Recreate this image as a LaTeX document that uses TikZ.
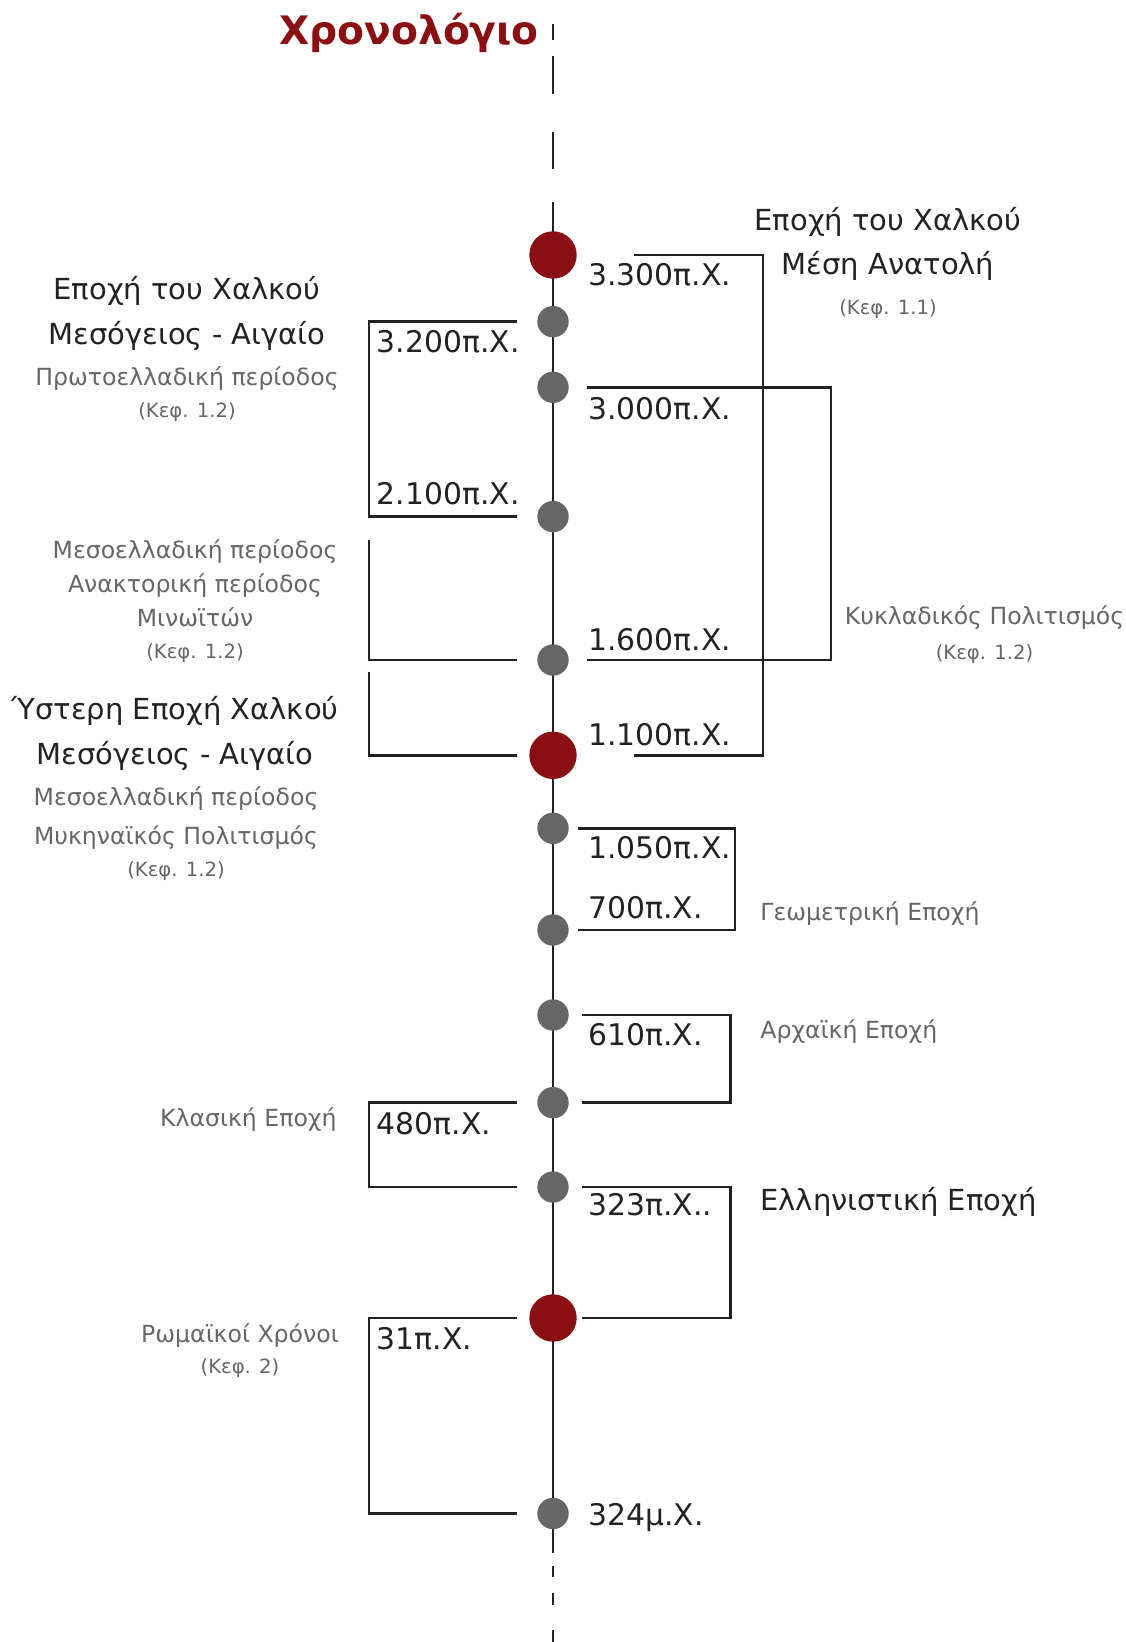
\documentclass[tikz,border=0pt]{standalone}
\usepackage{fontspec}
\setmainfont{DejaVu Sans}
\usetikzlibrary{calc}
\usetikzlibrary{positioning}

\definecolor{chronored}{RGB}{137,15,18}
\definecolor{dotgrey}{RGB}{102,102,102}
\definecolor{inkblack}{RGB}{34,34,34}

\tikzset{
  reddot/.style={circle, fill=chronored, minimum size=23.7pt, inner sep=0pt},
  greydot/.style={circle, fill=dotgrey, minimum size=15.7pt, inner sep=0pt},
  axisline/.style={draw=inkblack, line width=1.25pt},
  bracket/.style={draw=inkblack, line width=1.25pt},
  datelabel/.style={anchor=base west, inner sep=0pt, text=inkblack, font=\fontsize{14.9}{18}\selectfont},
  heading/.style={anchor=base, inner sep=0pt, text=inkblack, font=\fontsize{14.5}{18}\selectfont},
  subtitle/.style={anchor=base, inner sep=0pt, text=dotgrey, font=\fontsize{11.8}{15}\selectfont},
  chapter/.style={anchor=base, inner sep=0pt, text=dotgrey, font=\fontsize{9.8}{12}\selectfont},
}

\begin{document}
\begin{tikzpicture}[x=0.5pt, y=-0.5pt]
            \useasboundingbox (0,0) rectangle (1125,1642);

            % Title
            \node [anchor=base west, inner sep=0pt, text=chronored, font=\fontsize{19.6}{22}\selectfont\bfseries] (title) at (279,45) {Χρονολόγιο};

            % Time axis, dashed at both ends
            \coordinate (axistop) at (553,202);
            \coordinate (axisbottom) at (553,1553);
            \draw [axisline] (axistop) -- (axisbottom);
            \foreach \a/\b in {24/40, 56/94, 132/169, 1566/1577, 1593/1605, 1630/1642} {
                \draw [axisline] (553,\a) -- (553,\b);
            }

            % Events on the axis
            \foreach \i/\y in {1/255, 6/755.3, 12/1318} {
                \node [reddot] (d\i) at (553,\y) {};
            }
            \foreach \i/\y in {2/321.7, 3/387.3, 4/516.6, 5/660, 7/828.3, 8/930, 9/1015, 10/1102.7, 11/1187, 13/1513.5} {
                \node [greydot] (d\i) at (553,\y) {};
            }

            % Bracket columns
            \coordinate (lv) at (369,0);
            \coordinate (lend) at (517,0);
            \coordinate (ra) at (634,0);
            \coordinate (rav) at (763,0);
            \coordinate (rb) at (587,0);
            \coordinate (rbv) at (831,0);
            \coordinate (rc) at (578,0);
            \coordinate (rcv) at (735,0);
            \coordinate (rd) at (582,0);
            \coordinate (rdv) at (730.5,0);
            \coordinate (ltwo) at (369,539.5);
            \coordinate (lthree) at (369,672);

            % Left brackets
            \draw [bracket] (d2 -| lend) -- (d2 -| lv) -- (d4 -| lv) -- (d4 -| lend);
            \draw [bracket] (ltwo) -- (d5 -| lv) -- (d5 -| lend);
            \draw [bracket] (lthree) -- (d6 -| lv) -- (d6 -| lend);
            \draw [bracket] (d10 -| lend) -- (d10 -| lv) -- (d11 -| lv) -- (d11 -| lend);
            \draw [bracket] (d12 -| lend) -- (d12 -| lv) -- (d13 -| lv) -- (d13 -| lend);

            % Right brackets
            \draw [bracket] (d1 -| ra) -- (d1 -| rav) -- (d6 -| rav) -- (d6 -| ra);
            \draw [bracket] (d3 -| rb) -- (d3 -| rbv) -- (d5 -| rbv) -- (d5 -| rb);
            \draw [bracket] (d7 -| rc) -- (d7 -| rcv) -- (d8 -| rcv) -- (d8 -| rc);
            \draw [bracket] (d9 -| rd) -- (d9 -| rdv) -- (d10 -| rdv) -- (d10 -| rd);
            \draw [bracket] (d11 -| rd) -- (d11 -| rdv) -- (d12 -| rdv) -- (d12 -| rd);

            % Dates
            \foreach \i/\txt/\xx/\yy in {1/3.300π.Χ./588/286, 2/3.200π.Χ./376.5/353, 3/3.000π.Χ./588/419.5,
                4/2.100π.Χ./376.5/504, 5/1.600π.Χ./588/650.5, 6/1.100π.Χ./588/745.3, 7/1.050π.Χ./588/858.3,
                8/700π.Χ./588/918.3, 9/610π.Χ./588/1045, 10/480π.Χ./376.5/1134.5, 11/323π.Χ../588/1215.5,
                12/31π.Χ./376.5/1349.6, 13/324μ.Χ./588/1525.3} {
                \node [datelabel] (date\i) at (\xx,\yy) {\txt};
            }

            % Periods, left side
            \node [heading] (bronzeA) at (187,300) {Εποχή του Χαλκού};
            \node [heading] (aegeanA) at (187,344) {Μεσόγειος - Αιγαίο};
            \node [subtitle] (early) at (187,386) {Πρωτοελλαδική περίοδος};
            \node [chapter] (chapA) at (187,417) {(Κεφ. 1.2)};

            \node [subtitle] (middle) at (195,558) {Μεσοελλαδική περίοδος};
            \node [subtitle] (palace) at (195,592.5) {Ανακτορική περίοδος};
            \node [subtitle] (minoan) at (195,626.5) {Μινωϊτών};
            \node [chapter] (chapB) at (195,658) {(Κεφ. 1.2)};

            \node [heading] (late) at (175,719.5) {Ύστερη Εποχή Χαλκού};
            \node [heading] (aegeanB) at (175,764) {Μεσόγειος - Αιγαίο};
            \node [subtitle] (middleB) at (176,805) {Μεσοελλαδική περίοδος};
            \node [subtitle] (mycenae) at (176,844) {Μυκηναϊκός Πολιτισμός};
            \node [chapter] (chapC) at (176,876) {(Κεφ. 1.2)};

            \node [subtitle, anchor=base east] (classic) at (337,1126.5) {Κλασική Εποχή};
            \node [subtitle] (roman) at (240,1342) {Ρωμαϊκοί Χρόνοι};
            \node [chapter] (chapD) at (240,1373) {(Κεφ. 2)};

            % Periods, right side
            \node [heading] (bronzeB) at (888,230.5) {Εποχή του Χαλκού};
            \node [heading] (neareast) at (888,275) {Μέση Ανατολή};
            \node [chapter] (chapE) at (888,315) {(Κεφ. 1.1)};

            \node [subtitle] (cyclades) at (984.5,624) {Κυκλαδικός Πολιτισμός};
            \node [chapter] (chapF) at (984.5,659) {(Κεφ. 1.2)};

            \node [subtitle, anchor=base west] (geometric) at (760,920.5) {Γεωμετρική Εποχή};
            \node [subtitle, anchor=base west] (archaic) at (760,1038) {Αρχαϊκή Εποχή};
            \node [heading, anchor=base west] (hellenistic) at (760,1210) {Ελληνιστική Εποχή};
\end{tikzpicture}
\end{document}
